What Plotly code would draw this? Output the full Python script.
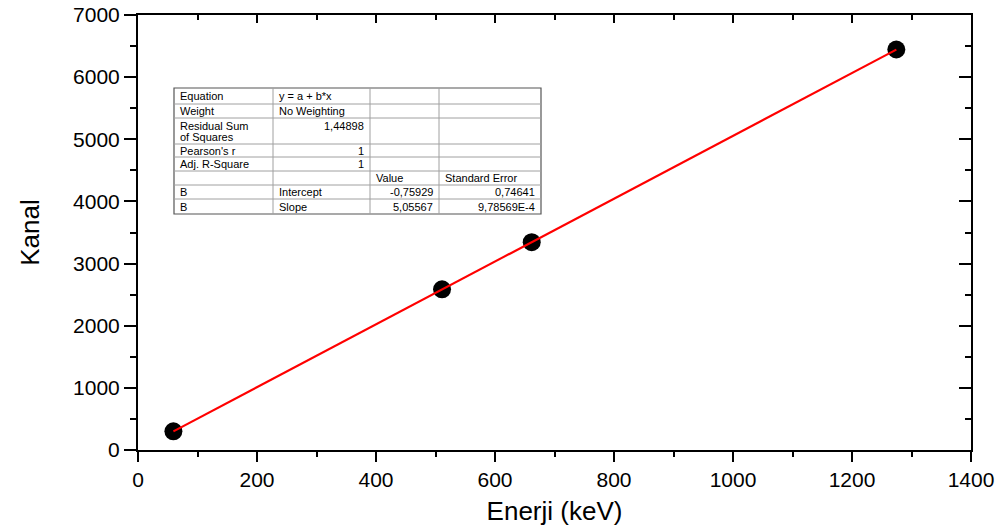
import plotly.graph_objects as go

# ---- data ----
energy_kev = [59.5, 511.0, 661.7, 1274.5]
kanal = [300, 2585, 3345, 6445]
fit_x = [59.5, 1274.5]
fit_y = [300, 6443]

x_ticks = [0, 200, 400, 600, 800, 1000, 1200, 1400]
y_ticks = [0, 1000, 2000, 3000, 4000, 5000, 6000, 7000]

table_col1 = ["Equation", "Weight", "Residual Sum<br>of Squares", "Pearson's r", "Adj. R-Square", "", "B", "B"]
table_col2 = ["y = a + b*x", "No Weighting", "1,44898", "1", "1", "", "Intercept", "Slope"]
table_col3 = ["", "", "", "", "", "Value", "-0,75929", "5,05567"]
table_col4 = ["", "", "", "", "", "Standard Error", "0,74641", "9,78569E-4"]
align_col2 = ["left", "left", "right", "right", "right", "left", "left", "left"]
align_col3 = ["left"] * 5 + ["left", "right", "right"]
align_col4 = ["left"] * 5 + ["left", "right", "right"]

# ---- layout geometry (pixels) ----
W, H = 1006, 526
L, R, T, B = 138, 35, 15, 76
PW, PH = W - L - R, H - T - B

def px(x):
    return (x - L) / PW

def py(y):
    return (H - B - y) / PH

FONT = "Liberation Sans, Arial, sans-serif"

fig = go.Figure()
fig.add_trace(go.Scatter(x=energy_kev, y=kanal, mode="markers",
                         marker=dict(color="black", size=18), showlegend=False))
fig.add_trace(go.Scatter(x=fit_x, y=fit_y, mode="lines",
                         line=dict(color="#ff0000", width=2.2), showlegend=False))
# dummy trace for mirrored axes
fig.add_trace(go.Scatter(x=[None], y=[None], xaxis="x2", yaxis="y2", showlegend=False))

shapes = []
annotations = []

# table geometry
col_edges = [174, 273, 370, 439, 541]
row_edges = [88, 104, 118, 144, 157, 171, 185, 199, 214]
cols = [table_col1, table_col2, table_col3, table_col4]
aligns = [["left"] * 8, align_col2, align_col3, align_col4]

shapes.append(dict(type="rect", xref="paper", yref="paper",
                   x0=px(col_edges[0]), x1=px(col_edges[-1]),
                   y0=py(row_edges[-1]), y1=py(row_edges[0]),
                   fillcolor="white", line=dict(color="#555555", width=1.2), layer="above"))
for xe in col_edges[1:-1]:
    shapes.append(dict(type="line", xref="paper", yref="paper",
                       x0=px(xe), x1=px(xe), y0=py(row_edges[-1]), y1=py(row_edges[0]),
                       line=dict(color="#a0a0a0", width=1), layer="above"))
for ye in row_edges[1:-1]:
    shapes.append(dict(type="line", xref="paper", yref="paper",
                       x0=px(col_edges[0]), x1=px(col_edges[-1]), y0=py(ye), y1=py(ye),
                       line=dict(color="#a0a0a0", width=1), layer="above"))

def cell_text(txt, x, y, anchor):
    annotations.append(dict(xref="paper", yref="paper", x=x, y=py(y),
                            text=txt, showarrow=False,
                            xanchor=anchor, yanchor="middle", align="left",
                            font=dict(family=FONT, size=11, color="black")))

for ci, col in enumerate(cols):
    for ri, txt in enumerate(col):
        if not txt:
            continue
        a = aligns[ci][ri]
        x = px(col_edges[ci] + 4) if a == "left" else px(col_edges[ci + 1] - 4)
        lines = txt.split("<br>")
        if ri == 2:
            for k, line in enumerate(lines):
                cell_text(line, x, row_edges[ri] + 8 + 11 * k, a)
        else:
            cell_text(txt, x, (row_edges[ri] + row_edges[ri + 1]) / 2, a)

fig.update_layout(
    width=W, height=H,
    margin=dict(l=L, r=R, t=T, b=B),
    paper_bgcolor="white", plot_bgcolor="white",
    font=dict(family=FONT, color="black"),
    shapes=shapes, annotations=annotations,
    xaxis=dict(range=[0, 1400], tickvals=x_ticks, ticktext=[str(v) for v in x_ticks],
               automargin=False,
               showgrid=False, zeroline=False, showline=True, linecolor="black", linewidth=2,
               ticks="outside", ticklen=10, tickwidth=2, tickcolor="black",
               minor=dict(dtick=100, tick0=0, ticks="outside", ticklen=5, tickwidth=2, tickcolor="black"),
               tickfont=dict(size=21, family=FONT),
               title=dict(text="Enerji (keV)", font=dict(size=26, family=FONT), standoff=14)),
    yaxis=dict(range=[0, 7000], tickvals=y_ticks, ticktext=[str(v) for v in y_ticks],
               automargin=False,
               showgrid=False, zeroline=False, showline=True, linecolor="black", linewidth=2,
               ticks="outside", ticklen=12, tickwidth=2, tickcolor="black",
               minor=dict(dtick=500, tick0=0, ticks="outside", ticklen=6, tickwidth=2, tickcolor="black"),
               tickfont=dict(size=21, family=FONT),
               title=dict(text="Kanal", font=dict(size=26, family=FONT), standoff=26)),
    xaxis2=dict(range=[0, 1400], overlaying="x", side="top", anchor="y", automargin=False,
                tickvals=x_ticks, showticklabels=False, showgrid=False, zeroline=False,
                showline=True, linecolor="black", linewidth=2,
                ticks="inside", ticklen=8, tickwidth=2, tickcolor="black",
                minor=dict(dtick=100, tick0=0, ticks="inside", ticklen=5, tickwidth=2, tickcolor="black")),
    yaxis2=dict(range=[0, 7000], overlaying="y", side="right", anchor="x", automargin=False,
                tickvals=y_ticks, showticklabels=False, showgrid=False, zeroline=False,
                showline=True, linecolor="black", linewidth=2,
                ticks="inside", ticklen=12, tickwidth=2, tickcolor="black",
                minor=dict(dtick=500, tick0=0, ticks="inside", ticklen=6, tickwidth=2, tickcolor="black")),
)

fig.write_html("out.html")
